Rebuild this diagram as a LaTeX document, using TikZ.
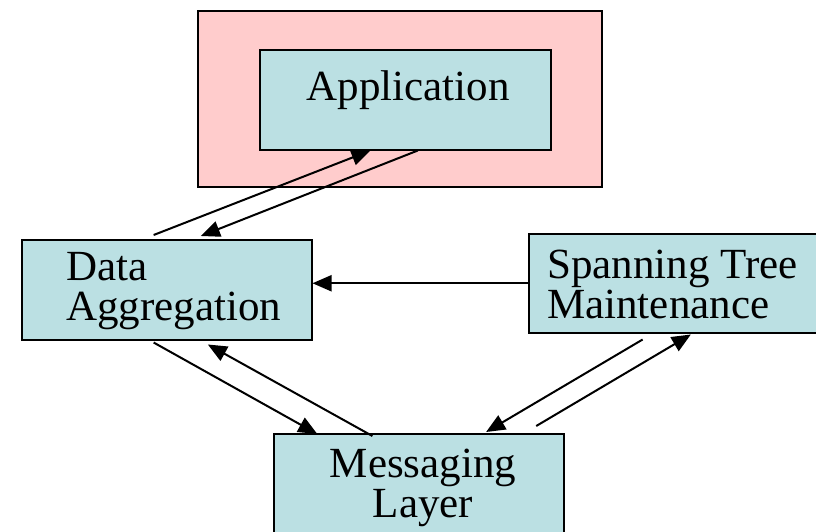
\documentclass[tikz,border=0pt]{standalone}
\usepackage{fontspec}
\setmainfont{Liberation Serif}
\usetikzlibrary{arrows.meta,calc}
\definecolor{boxfill}{RGB}{187,224,227}
\definecolor{pinkfill}{RGB}{255,204,204}
\begin{document}
\begin{tikzpicture}[x=1pt,y=-1pt,
  frame/.style={draw=black, line width=1.5pt, inner sep=0pt, anchor=north west},
  box/.style={frame, fill=boxfill},
  lbl/.style={font=\fontsize{43}{40}\selectfont, inner sep=0pt},
  conn/.style={line width=2pt, -{Triangle[length=19pt,width=16pt]}}]
\useasboundingbox (0,0) rectangle (816,531);
% boxes
\node[frame, fill=pinkfill, minimum width=404pt, minimum height=176pt] (outer) at (197,10) {};
\node[box, minimum width=291pt, minimum height=100pt] (app) at (259,49) {};
\node[box, minimum width=290pt, minimum height=100pt] (da) at (21,239) {};
\node[box, minimum width=288pt, minimum height=99pt] (st) at (528,233) {};
\node[box, minimum width=290pt, minimum height=110pt] (ml) at (273,433) {};
% labels
\node[lbl, anchor=base] (tapp) at (408,100) {Application};
\node[lbl, anchor=base west] (tda1) at (66,280) {Data};
\node[lbl, anchor=base west] (tda2) at (66,320) {Aggregation};
\node[lbl, anchor=base west] (tst1) at (547,278) {Spanning Tree};
\node[lbl, anchor=base west] (tst2) at (547,318) {Maintenance};
\node[lbl, anchor=base] (tml1) at (423,477) {Messaging};
\node[lbl, anchor=base] (tml2) at (423,517) {Layer};
% connectors
\draw[conn] ($(da.north west)!0.455!(da.north east)+(0,-4)$) -- ($(app.south west)!0.381!(app.south east)$);
\draw[conn] ($(app.south west)!0.543!(app.south east)$) -- ($(da.north west)!0.617!(da.north east)+(0,-3)$);
\draw[conn] (st.west) -- (st.west -| da.east);
\draw[conn] ($(da.south west)!0.455!(da.south east)+(0,2)$) -- ($(ml.north west)!0.152!(ml.north east)+(0,1)$);
\draw[conn] ($(ml.north west)!0.341!(ml.north east)+(0,3)$) -- ($(da.south west)!0.641!(da.south east)+(0,4)$);
\draw[conn] ($(st.south west)!0.396!(st.south east)+(0,6)$) -- ($(ml.north west)!0.731!(ml.north east)+(0,-1)$);
\draw[conn] ($(ml.north west)!0.903!(ml.north east)+(0,-7)$) -- ($(st.south west)!0.5625!(st.south east)+(0,1)$);
\end{tikzpicture}
\end{document}
